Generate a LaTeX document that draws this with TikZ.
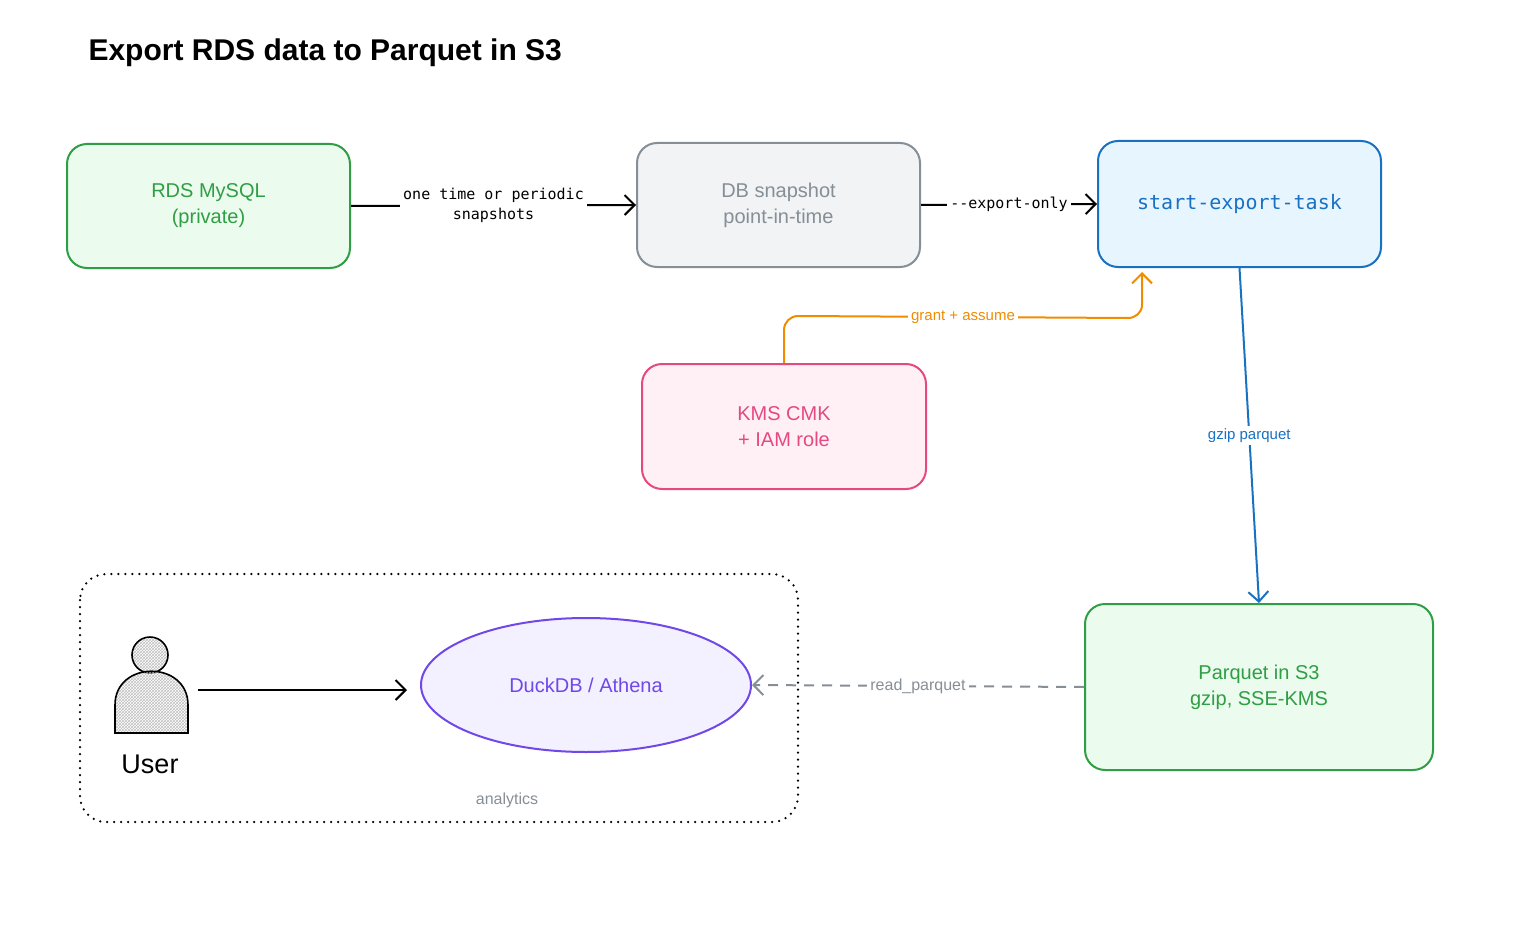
\documentclass[tikz,border=0pt]{standalone}
\usepackage{fontspec}
\setmainfont{Liberation Sans}
\setmonofont{DejaVu Sans Mono}
\usetikzlibrary{arrows.meta,shapes.geometric,patterns}
\definecolor{gS}{HTML}{2F9E44}\definecolor{gF}{HTML}{EBFBEE}
\definecolor{kS}{HTML}{868E96}\definecolor{kF}{HTML}{F1F3F5}
\definecolor{bS}{HTML}{1971C2}\definecolor{bF}{HTML}{E7F5FF}
\definecolor{pS}{HTML}{E64980}\definecolor{pF}{HTML}{FFF0F6}
\definecolor{vS}{HTML}{7048E8}\definecolor{vF}{HTML}{F3F0FF}
\definecolor{oS}{HTML}{F08C00}
\begin{document}
\begin{tikzpicture}[x=1pt,y=-1pt,
box/.style={draw=#1S,fill=#1F,line width=2pt,rounded corners=20pt,text=#1S,align=center,font=\fontsize{20}{26}\selectfont},
arr/.style={-{Straight Barb[length=10pt,width=20pt]},line width=2pt},
lbl/.style={fill=white,inner sep=3pt,font=\ttfamily\fontsize{15}{20}\selectfont,align=center}]
\useasboundingbox (0,0) rectangle (1534,928);
\node[anchor=west,font=\bfseries\fontsize{30}{36}\selectfont] (title) at (85,53) {Export RDS data to Parquet in S3};
\node[box=g,minimum width=283pt,minimum height=124pt] (rds) at (208.5,206) {RDS MySQL\\(private)};
\node[box=k,minimum width=283pt,minimum height=124pt] (snap) at (778.5,205) {DB snapshot\\point-in-time};
\node[box=b,minimum width=283pt,minimum height=126pt,font=\ttfamily\fontsize{20}{24}\selectfont] (task) at (1239.5,204) {start-export-task};
\node[box=p,minimum width=284pt,minimum height=125pt] (kms) at (784,426.5) {KMS CMK\\+ IAM role};
\node[box=g,minimum width=348pt,minimum height=166pt] (pq) at (1259,687) {Parquet in S3\\gzip, SSE-KMS};
\draw[line width=2.5pt,line cap=round,dash pattern=on 0pt off 7pt,rounded corners=26pt] (80,574) rectangle (798,822);
\node[text=kS,font=\fontsize{16}{19}\selectfont] (grp) at (507,800) {analytics};
\node[ellipse,draw=vS,fill=vF,line width=2pt,minimum width=330pt,minimum height=134pt,text=vS,font=\fontsize{20}{24}\selectfont] (duck) at (586,685) {DuckDB / Athena};
\draw[line width=1.6pt,pattern=crosshatch,pattern color=black!25] (150,655) circle (18);
\draw[line width=1.6pt,pattern=crosshatch,pattern color=black!25] (115,733) -- (115,705) .. controls (115,660) and (188,660) .. (188,705) -- (188,733) -- cycle;
\node[font=\fontsize{27}{30}\selectfont] (user) at (150,764) {User};
\coordinate (uR) at (198,690);
\draw[arr] (uR) -- (407,690);
\draw[arr] (rds.east) -- node[lbl]{one time or periodic\\snapshots} (snap.west);
\draw[arr] (snap.east) -- node[lbl]{--export-only} (task.west);
\draw[arr,oS] (kms.north) -- (784,330) to[out=90,in=180] (798,316) -- node[lbl,text=oS,font=\fontsize{15}{18}\selectfont]{grant + assume} (1128,318) to[out=0,in=-90] (1142,305) -- (1142,272);
\draw[arr,bS] (task.south) -- node[lbl,text=bS,font=\fontsize{15}{18}\selectfont]{gzip parquet} (pq.north);
\draw[arr,kS,dashed,dash pattern=on 10pt off 8pt] (pq.west) -- node[lbl,text=kS,font=\fontsize{16}{19}\selectfont]{read\_parquet} (duck.east);
\end{tikzpicture}
\end{document}
